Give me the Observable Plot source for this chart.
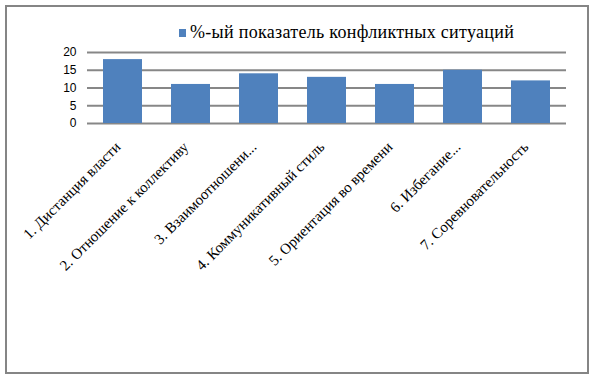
<!DOCTYPE html>
<html><head><meta charset="utf-8">
<script src="https://cdn.jsdelivr.net/npm/d3@7"></script>
<script src="https://cdn.jsdelivr.net/npm/@observablehq/plot@0.6"></script>
<style>
body{margin:0;background:#fff;width:598px;height:378px;overflow:hidden;position:relative;}
#frame{position:absolute;left:5px;top:5px;width:580px;height:365px;border:2px solid #858585;}
#legend{position:absolute;left:179px;top:22px;font-family:"Liberation Serif",serif;font-size:18px;letter-spacing:0.3px;color:#000;display:flex;align-items:center;white-space:nowrap;}
#legend .sw{width:7px;height:8px;background:#4F81BD;margin-right:4px;}
#chart{position:absolute;left:0;top:0;}
</style></head>
<body>
<div id="frame"></div>
<div id="chart"></div>
<div id="legend"><span class="sw"></span><span>%-ый показатель конфликтных ситуаций</span></div>
<script>
const categories = ["1. Дистанция власти","2. Отношение к коллективу","3. Взаимоотношени...","4. Коммуникативный стиль","5. Ориентация во времени","6. Избегание...","7. Соревновательность"];
const values = [18, 11, 14, 13, 11, 15, 12];
const yTicks = [0, 5, 10, 15, 20];
const seriesName = "%-ый показатель конфликтных ситуаций";

const data = categories.map((c, i) => ({category: c, value: values[i]}));

const chart = Plot.plot({
  width: 598,
  height: 378,
  marginTop: 52,
  marginBottom: 255,
  marginLeft: 87,
  marginRight: 32,
  style: {background: "transparent", overflow: "visible"},
  x: {domain: categories, paddingInner: 0.43, paddingOuter: 0.215, label: null},
  y: {domain: [0, 20], label: null},
  marks: [
    Plot.gridY(yTicks, {stroke: "#878787", strokeWidth: 2, strokeOpacity: 1}),
    Plot.barY(data, {x: "category", y: "value", fill: "#4F81BD"}),
    Plot.axisY({ticks: yTicks, tickSize: 0, tickPadding: 11, fontSize: 12, fontFamily: "Liberation Sans, Arial, sans-serif", fill: "#000", label: null}),
    Plot.axisX({tickSize: 0, tickRotate: -45, tickPadding: 10, dx: -5, dy: 11, fontSize: 15, fontFamily: "Liberation Serif", fill: "#000", label: null})
  ]
});
document.getElementById("chart").appendChild(chart);
</script>
</body></html>
